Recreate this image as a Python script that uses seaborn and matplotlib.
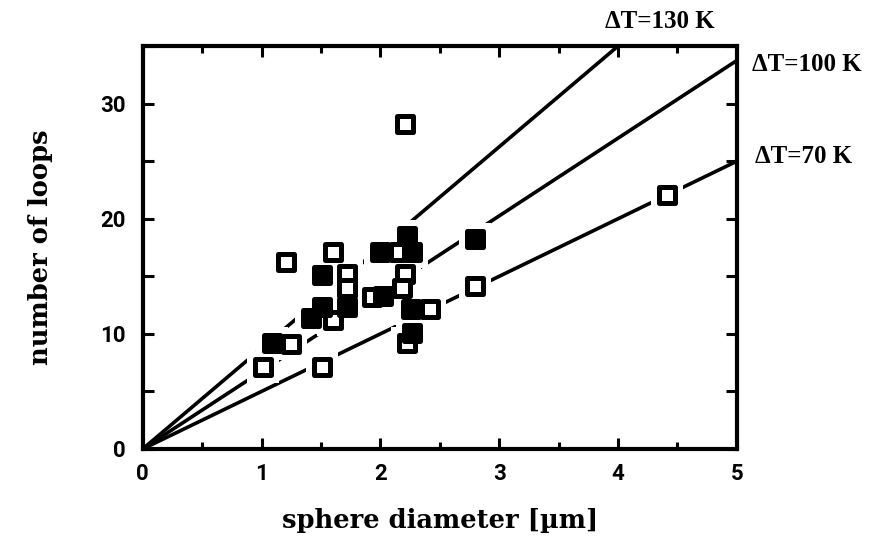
import matplotlib
matplotlib.use("Agg")
import matplotlib.pyplot as plt
import seaborn as sns
import pandas as pd
from matplotlib.ticker import MultipleLocator

# measured sphere diameters (µm) and loop counts
open_d = [2.21, 1.21, 1.60, 1.72, 1.72, 2.16, 2.21, 2.18, 1.93, 2.42, 1.60,
          2.22, 1.25, 1.01, 1.51, 2.80, 4.41]
open_n = [28.2, 16.2, 17.1, 15.2, 14.0, 17.1, 15.2, 14.0, 13.2, 12.2, 11.2,
          9.2, 9.1, 7.1, 7.1, 14.2, 22.1]
filled_d = [1.51, 2.00, 2.22, 2.27, 2.02, 2.26, 1.51, 1.42, 1.72, 2.27, 1.09, 2.80]
filled_n = [15.1, 17.1, 18.5, 17.1, 13.3, 12.2, 12.3, 11.4, 12.3, 10.1, 9.2, 18.2]

# model lines n = k * d for three temperature differences
model_labels = ["ΔT=130 K", "ΔT=100 K", "ΔT=70 K"]
model_slopes = [8.75, 6.75, 5.0]
model_x = [0.0, 5.0]

sns.set_style("ticks")
plt.rcParams["font.family"] = ["Liberation Serif", "DejaVu Serif"]
for key in ["text.color", "axes.labelcolor", "xtick.color", "ytick.color",
            "axes.edgecolor"]:
    plt.rcParams[key] = "black"

fig = plt.figure(figsize=(8.7, 5.42), dpi=100)
ax = fig.add_axes([0.164, 0.1716, 0.683, 0.7434])

rows = []
for lab, k in zip(model_labels, model_slopes):
    for x in model_x:
        rows.append({"d": x, "n": k * x, "model": lab})
lines_df = pd.DataFrame(rows)
sns.lineplot(data=lines_df, x="d", y="n", units="model", estimator=None,
             color="black", linewidth=2.6, ax=ax, legend=False, zorder=2)

pts = pd.DataFrame({
    "d": open_d + filled_d,
    "n": open_n + filled_n,
    "kind": ["open"] * len(open_d) + ["filled"] * len(filled_d),
})

# white clearance around every symbol so the lines break at the points
sns.scatterplot(data=pts, x="d", y="n", marker="s", s=520, color="white",
                linewidth=0, ax=ax, legend=False, zorder=3)
sns.scatterplot(data=pts[pts.kind == "open"], x="d", y="n", marker="s", s=120,
                facecolor="white", edgecolor="black", linewidth=3.6,
                ax=ax, legend=False, zorder=4)
sns.scatterplot(data=pts[pts.kind == "filled"], x="d", y="n", marker="s", s=120,
                facecolor="black", edgecolor="black", linewidth=3.6,
                ax=ax, legend=False, zorder=5)

ax.set_xlim(0, 5)
ax.set_ylim(0, 35)
ax.xaxis.set_major_locator(MultipleLocator(1))
ax.xaxis.set_minor_locator(MultipleLocator(0.5))
ax.yaxis.set_major_locator(MultipleLocator(10))
ax.yaxis.set_minor_locator(MultipleLocator(5))
ax.tick_params(which="both", direction="in", top=True, right=True, width=2.2)
ax.tick_params(which="major", length=8)
ax.tick_params(which="minor", length=5)
ax.tick_params(axis="y", which="minor", length=8)
ax.tick_params(which="major", labelsize=16)
ax.tick_params(axis="x", which="major", pad=10)
ax.tick_params(axis="y", which="major", pad=12)
for lbl in ax.get_xticklabels() + ax.get_yticklabels():
    lbl.set_fontfamily(["Roboto", "DejaVu Sans"])
    lbl.set_fontweight("bold")
for sp in ax.spines.values():
    sp.set_linewidth(3)
    sp.set_visible(True)

ax.set_xlabel("sphere diameter [µm]", fontsize=18.5, fontweight="bold",
              family=["DejaVu Serif"], labelpad=17)
ax.set_ylabel("number of loops", fontsize=18.5, fontweight="bold",
              family=["DejaVu Serif"], labelpad=34)

label_pos = [(0.778, 1.060), (1.025, 0.955), (1.030, 0.725)]
for lab, (tx, ty) in zip(model_labels, label_pos):
    ax.text(tx, ty, lab, transform=ax.transAxes, fontsize=18, fontweight="bold",
            ha="left", va="center", clip_on=False)

fig.savefig("out.png", dpi=100)
